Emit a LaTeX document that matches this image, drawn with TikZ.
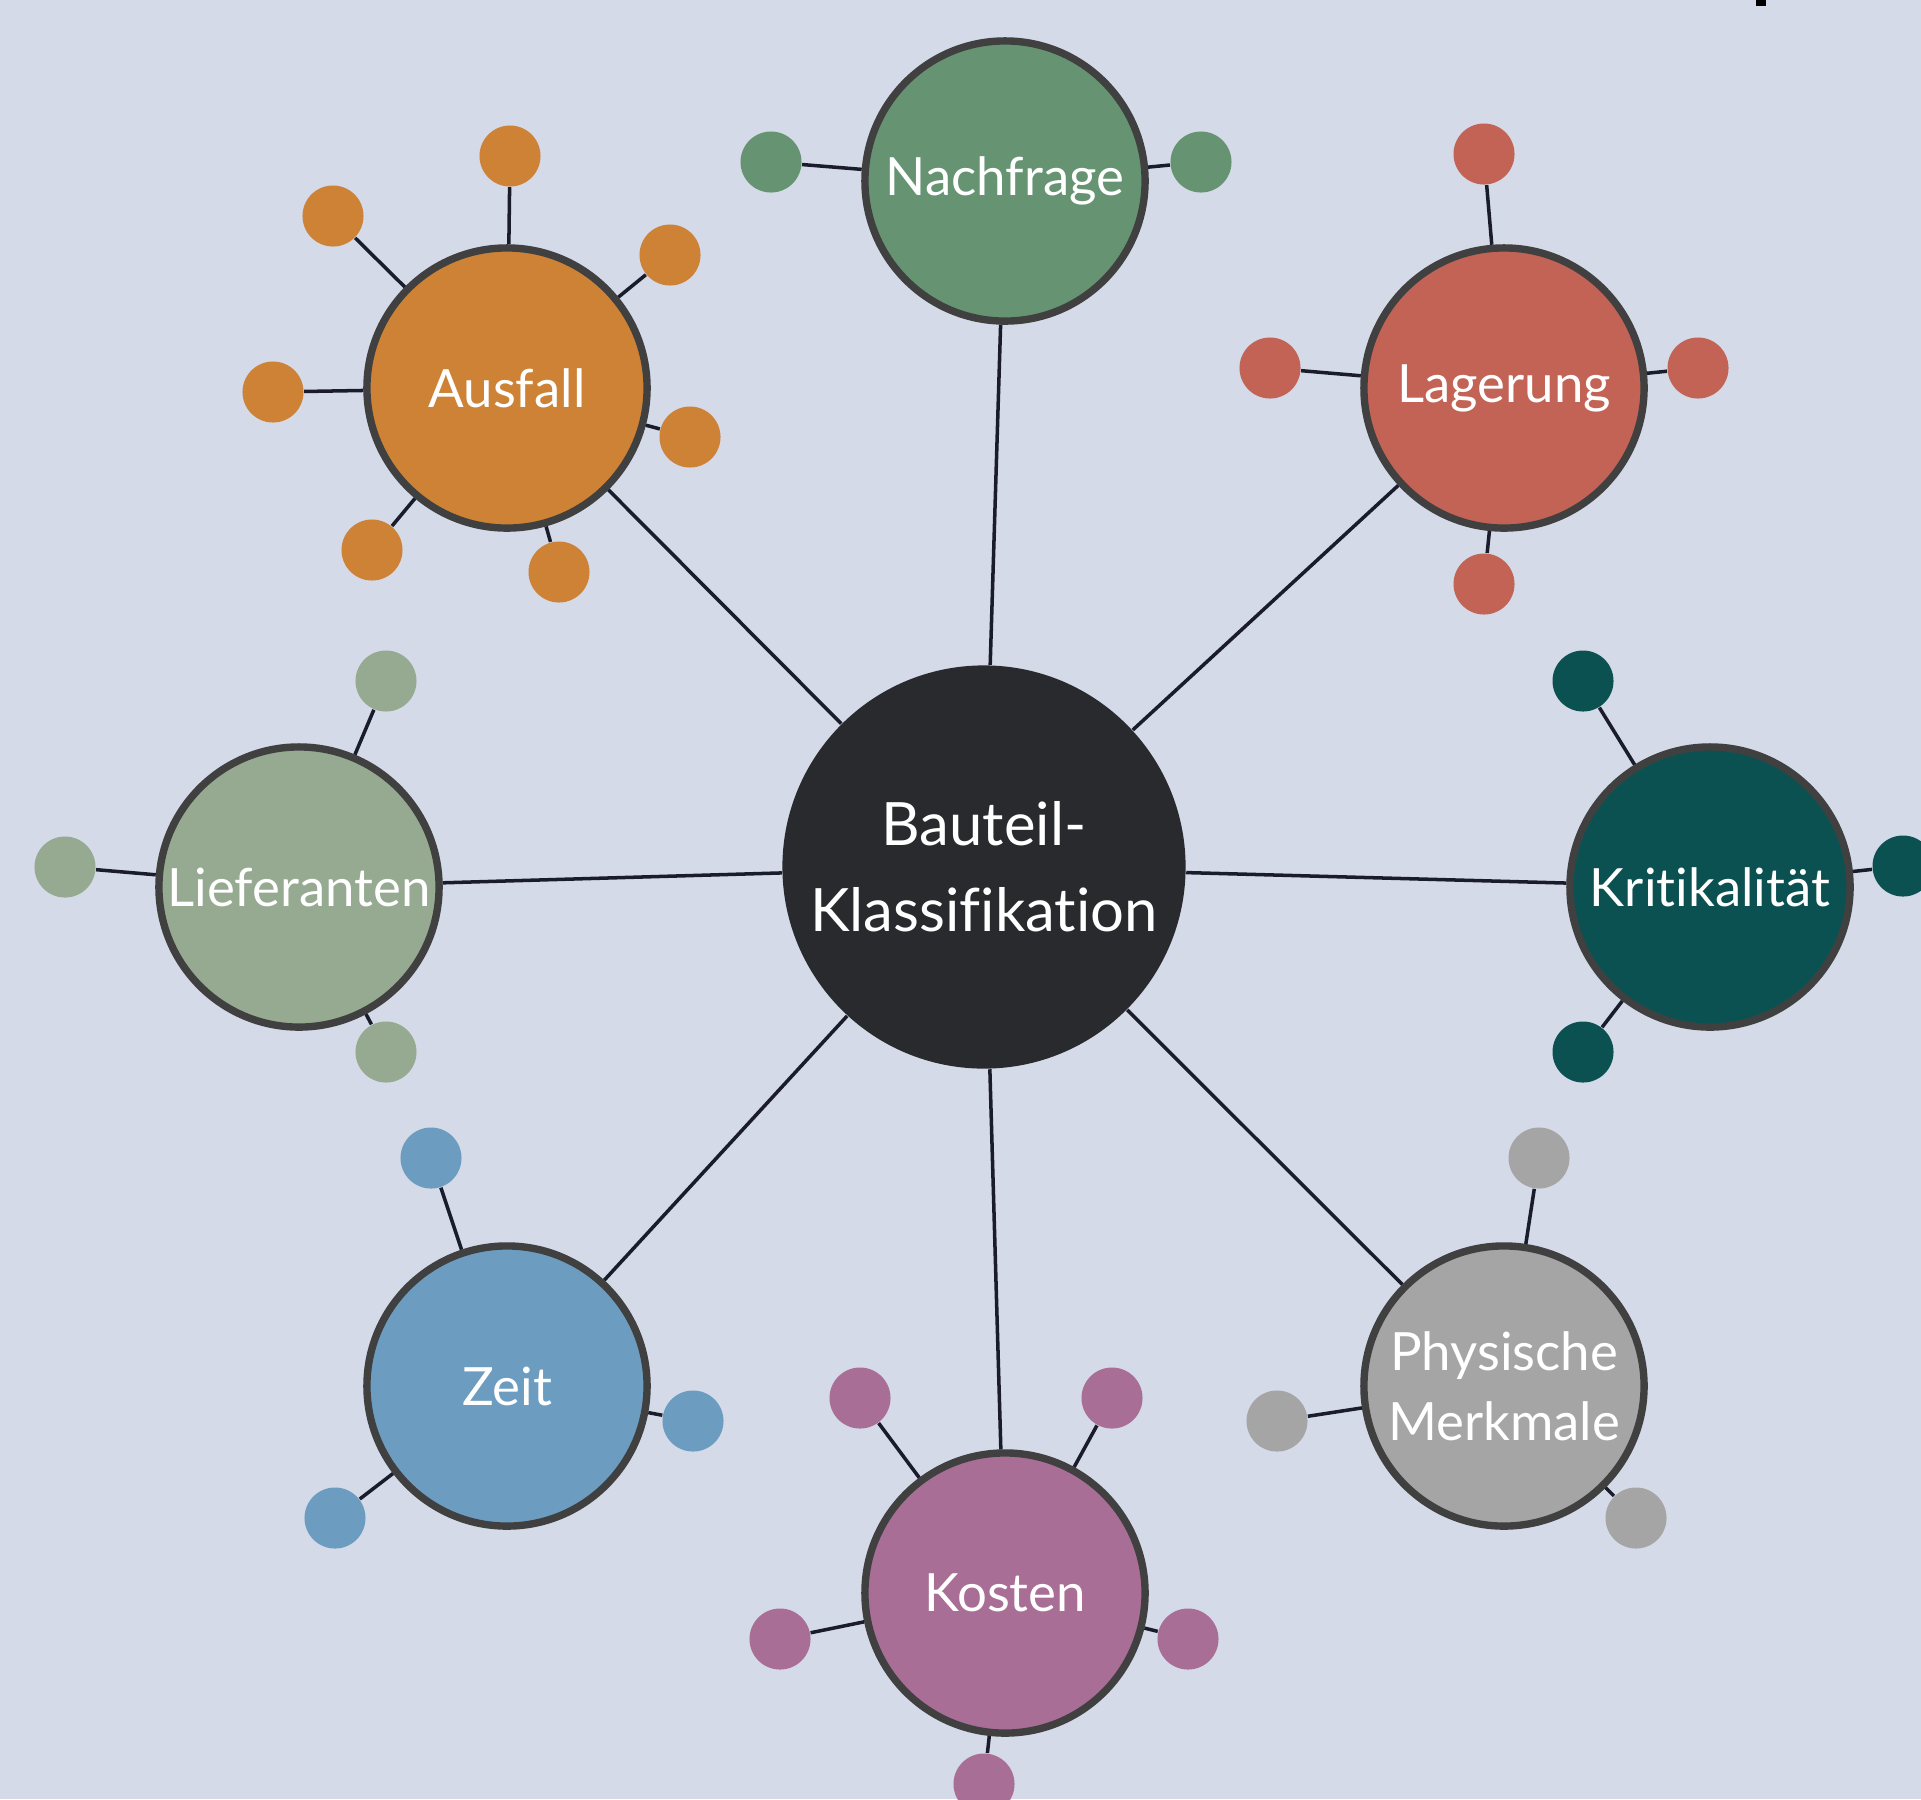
\documentclass[tikz,border=0pt]{standalone}
\usepackage{fontspec}
\setsansfont{Lato}[Ligatures=NoCommon]
\usetikzlibrary{positioning}
\definecolor{bgblue}{HTML}{D4DAE8}
\definecolor{coredark}{HTML}{292A2D}
\definecolor{ringgray}{HTML}{404040}
\definecolor{linknavy}{HTML}{1A1C2C}
\definecolor{cNach}{HTML}{669472}
\definecolor{cLager}{HTML}{C26356}
\definecolor{cAus}{HTML}{CD8236}
\definecolor{cLief}{HTML}{96A991}
\definecolor{cKrit}{HTML}{0C5152}
\definecolor{cZeit}{HTML}{6C9DC0}
\definecolor{cPhys}{HTML}{A5A5A5}
\definecolor{cKost}{HTML}{A86E96}

\begin{document}
\begin{tikzpicture}[x=0.01cm,y=-0.01cm,
  topic/.style={circle,draw=ringgray,line width=2.1pt,minimum size=2.80cm,inner sep=0pt,
    text=white,align=center,font=\sffamily\fontsize{15}{20}\selectfont},
  core/.style={circle,fill=coredark,minimum size=4.03cm,inner sep=0pt,
    text=white,align=center,font=\sffamily\fontsize{17}{24.5}\selectfont},
  leaf/.style={circle,minimum size=0.61cm,inner sep=0pt},
  link/.style={draw=linknavy,line width=1pt}]
\useasboundingbox (0,0) rectangle (1921,1799);
\clip (0,0) rectangle (1921,1799);
\fill[bgblue] (0,0) rectangle (1921,1799);
\fill[black] (1756,0) rectangle (1766,6);

% centre and topics
\node[core] (C) at (984,867) {Bauteil-\\Klassifikation};
\node[topic,fill=cNach]  (Nach)  at (1005,181)  {Nachfrage};
\node[topic,fill=cLager] (Lager) at (1504,388)  {Lagerung};
\node[topic,fill=cAus]   (Aus)   at (507,388)   {Ausfall};
\node[topic,fill=cLief]  (Lief)  at (299,887)   {Lieferanten};
\node[topic,fill=cKrit]  (Krit)  at (1710,887)  {Kritikalität};
\node[topic,fill=cZeit]  (Zeit)  at (507,1386)  {Zeit};
\node[topic,fill=cPhys]  (Phys)  at (1504,1386) {Physische\\Merkmale};
\node[topic,fill=cKost]  (Kost)  at (1005,1593) {Kosten};

% leaves
\node[leaf,fill=cAus] (a1) at (510,156) {};
\node[leaf,fill=cAus] (a2) at (333,216) {};
\node[leaf,fill=cAus] (a3) at (670,255) {};
\node[leaf,fill=cAus] (a4) at (273,392) {};
\node[leaf,fill=cAus] (a5) at (690,437) {};
\node[leaf,fill=cAus] (a6) at (372,550) {};
\node[leaf,fill=cAus] (a7) at (559,572) {};

\node[leaf,fill=cNach] (n1) at (771,162) {};
\node[leaf,fill=cNach] (n2) at (1201,162) {};

\node[leaf,fill=cLager] (l1) at (1484,154) {};
\node[leaf,fill=cLager] (l2) at (1270,368) {};
\node[leaf,fill=cLager] (l3) at (1698,368) {};
\node[leaf,fill=cLager] (l4) at (1484,584) {};

\node[leaf,fill=cKrit] (k1) at (1583,681) {};
\node[leaf,fill=cKrit] (k2) at (1903,866) {};
\node[leaf,fill=cKrit] (k3) at (1583,1052) {};

\node[leaf,fill=cLief] (f1) at (386,681) {};
\node[leaf,fill=cLief] (f2) at (65,867) {};
\node[leaf,fill=cLief] (f3) at (386,1052) {};

\node[leaf,fill=cZeit] (z1) at (431,1158) {};
\node[leaf,fill=cZeit] (z2) at (693,1421) {};
\node[leaf,fill=cZeit] (z3) at (335,1518) {};

\node[leaf,fill=cKost] (o1) at (860,1398) {};
\node[leaf,fill=cKost] (o2) at (1112,1398) {};
\node[leaf,fill=cKost] (o3) at (780,1639) {};
\node[leaf,fill=cKost] (o4) at (1188,1639) {};
\node[leaf,fill=cKost] (o5) at (984,1784) {};

\node[leaf,fill=cPhys] (p1) at (1539,1158) {};
\node[leaf,fill=cPhys] (p2) at (1277,1421) {};
\node[leaf,fill=cPhys] (p3) at (1636,1518) {};

\path[link]
  (C) edge (Nach) edge (Lager) edge (Aus) edge (Lief)
      edge (Krit) edge (Zeit) edge (Phys) edge (Kost)
  (Aus) edge (a1) edge (a2) edge (a3) edge (a4) edge (a5) edge (a6) edge (a7)
  (Nach) edge (n1) edge (n2)
  (Lager) edge (l1) edge (l2) edge (l3) edge (l4)
  (Krit) edge (k1) edge (k2) edge (k3)
  (Lief) edge (f1) edge (f2) edge (f3)
  (Zeit) edge (z1) edge (z2) edge (z3)
  (Kost) edge (o1) edge (o2) edge (o3) edge (o4) edge (o5)
  (Phys) edge (p1) edge (p2) edge (p3);
\end{tikzpicture}
\end{document}
